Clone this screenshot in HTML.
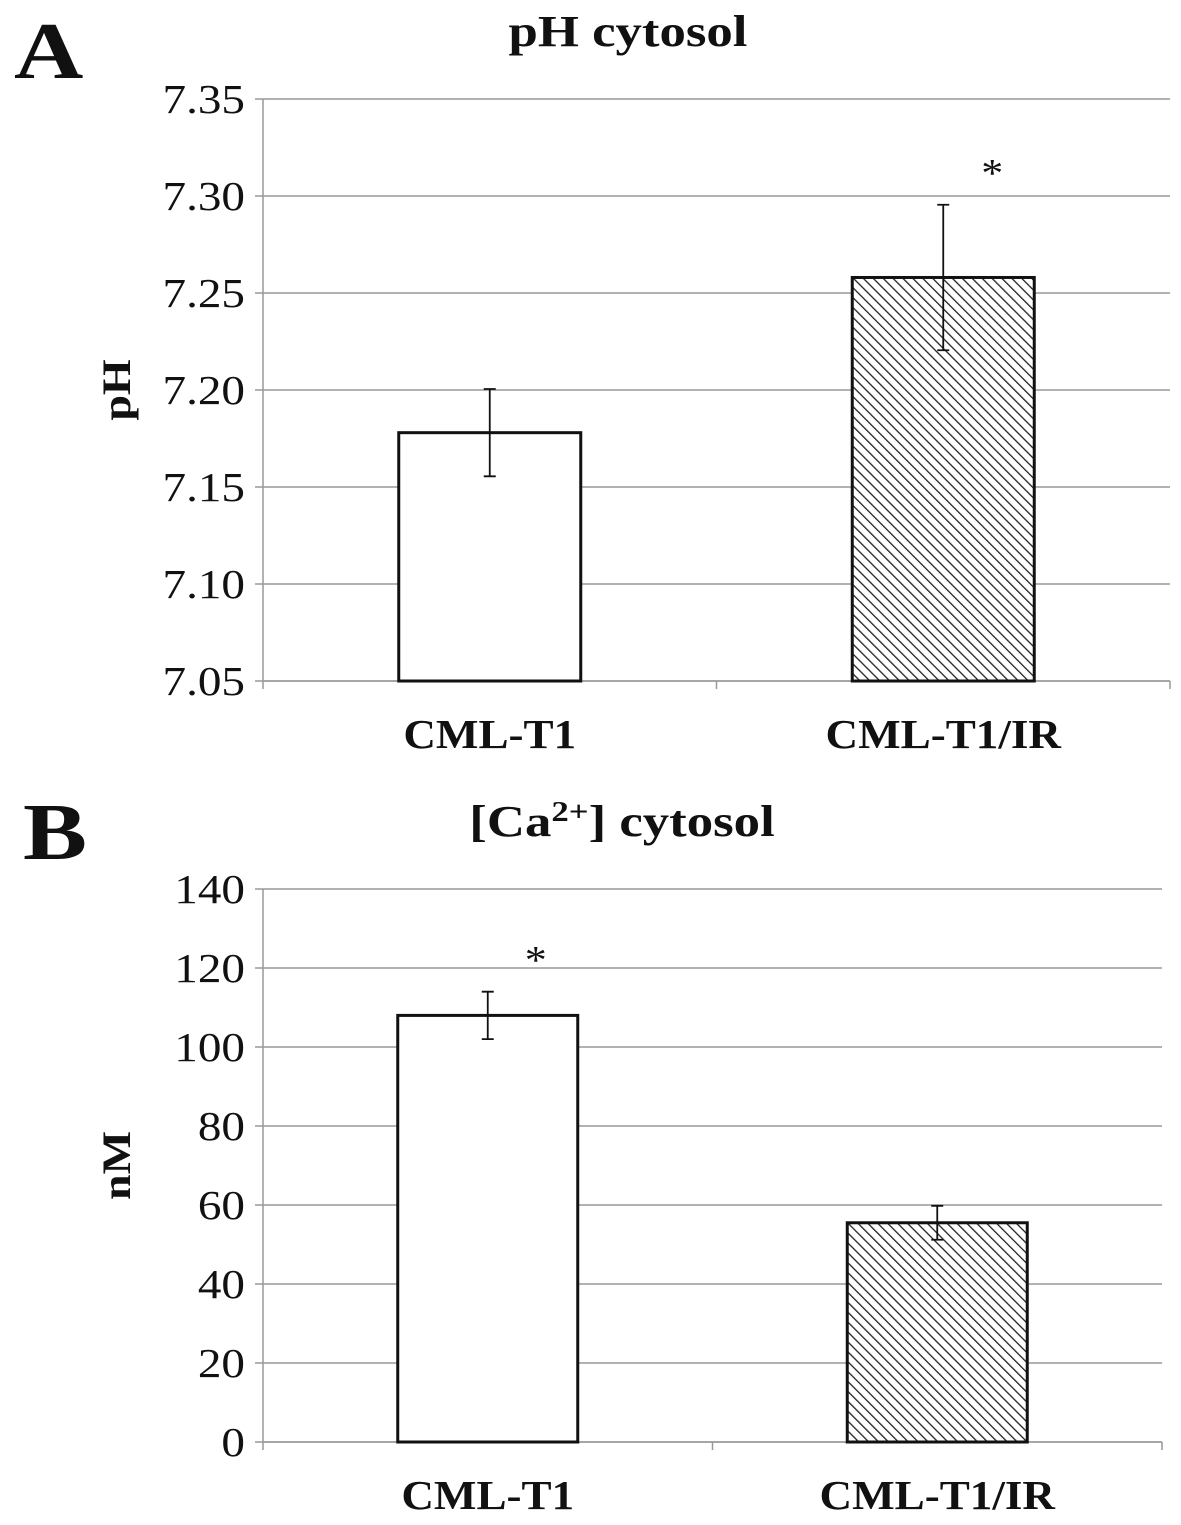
<!DOCTYPE html>
<html><head><meta charset="utf-8"><style>
html,body{margin:0;padding:0;background:#fff;}
svg text{font-family:"Liberation Serif",serif;fill:#111;}
</style></head><body>
<svg id="fig" width="1181" height="1520" viewBox="0 0 1181 1520" xmlns="http://www.w3.org/2000/svg">
<defs>
<pattern id="hatch" width="7" height="7" patternUnits="userSpaceOnUse" patternTransform="rotate(-45)">
<rect width="7" height="7" fill="#fff"/>
<line x1="0" y1="0" x2="0" y2="7" stroke="#222" stroke-width="2.6"/>
</pattern>
</defs>
<text transform="translate(14,78) scale(1.2,1)" font-size="80" font-weight="bold">A</text>
<text transform="translate(23,859) scale(1.2,1)" font-size="80" font-weight="bold">B</text>
<g id="chartA"></g>
<g id="chartB"></g>
</svg>
<script>
const catsA = ["CML-T1","CML-T1/IR"];
const valsA = [7.178, 7.258];
const errA = [0.0225, 0.0375];
const sigA = [false, true];
const ticksA = ["7.05","7.10","7.15","7.20","7.25","7.30","7.35"];

const catsB = ["CML-T1","CML-T1/IR"];
const valsB = [108, 55.5];
const errB = [6, 4.3];
const sigB = [true, false];
const ticksB = ["0","20","40","60","80","100","120","140"];

const NS="http://www.w3.org/2000/svg";
function mk(parent,tag,attrs){const e=document.createElementNS(NS,tag);for(const k in attrs)e.setAttribute(k,attrs[k]);parent.appendChild(e);return e;}

function draw(g,cfg){
  const {x0,x1,yTop,yBot,min,max,cats,vals,errs,sig,ticks,title,ytitle,barW}=cfg;
  const y=v=>yBot-(v-min)/(max-min)*(yBot-yTop);
  const band=(x1-x0)/cats.length;
  ticks.forEach(t=>{
    const yy=y(parseFloat(t));
    const gl=mk(g,'line',{x1:x0-8,x2:x1,y1:yy,y2:yy,stroke:'#999','stroke-width':1.5});
    
    
    const tl=mk(g,'text',{transform:`translate(${x0-18},${yy+14}) scale(1.15,1)`,'font-size':41,'text-anchor':'end'});
    tl.textContent=t;
    
    
  });
  const ax=mk(g,'line',{x1:x0,x2:x0,y1:yTop,y2:yBot,stroke:'#999','stroke-width':1.5});
  
  
  const xa=mk(g,'line',{x1:x0,x2:x1,y1:yBot,y2:yBot,stroke:'#999','stroke-width':1.5});
  
  
  for(let i=0;i<=cats.length;i++){
    const tk=mk(g,'line',{x1:x0+i*band,x2:x0+i*band,y1:yBot,y2:yBot+8,stroke:'#999','stroke-width':1.5});
    
    
  }
  cats.forEach((c,i)=>{
    const cx=x0+band*(i+0.5);
    const top=y(vals[i]);
    const b=mk(g,'rect',{x:cx-barW/2,y:top,width:barW,height:yBot-top,fill:i===1?'url(#hatch)':'#fff',stroke:'#111','stroke-width':3});
    
    
    const e1=y(vals[i]+errs[i]),e2=y(vals[i]-errs[i]);
    const eb=mk(g,'path',{d:`M${cx},${e1}V${e2}M${cx-6},${e1}H${cx+6}M${cx-6},${e2}H${cx+6}`,stroke:'#111','stroke-width':1.8,fill:'none'});
    
    
    if(sig[i]){
      const s=mk(g,'text',{transform:`translate(${cx+barW/2-42},${e1-18}) scale(1.1,1)`,'font-size':40,'text-anchor':'middle'});
      s.textContent='*';
      
      
    }
    const xl=mk(g,'text',{transform:`translate(${cx},${yBot+67}) scale(1.1,1)`,'font-size':41,'font-weight':'bold','text-anchor':'middle'});
    xl.textContent=c;
    
    
  });
  const tt=mk(g,'text',{transform:`translate(${cfg.titleX},${cfg.titleY}) scale(1.2,1)`,'font-size':44,'font-weight':'bold','text-anchor':'middle'});
  tt.innerHTML=title;
  
  
  const ym=(yTop+yBot)/2;
  const yt=mk(g,'text',{x:0,y:0,'font-size':40,'font-weight':'bold','text-anchor':'middle',transform:`translate(${cfg.ytX},${ym}) rotate(-90) scale(1.15,1)`});
  yt.textContent=ytitle;
  
  
}
draw(document.getElementById('chartA'),{x0:263,x1:1170,yTop:99,yBot:681,min:7.05,max:7.35,cats:catsA,vals:valsA,errs:errA,sig:sigA,ticks:ticksA,title:'pH cytosol',ytitle:'pH',barW:182,titleX:628,titleY:46,ytX:130});
draw(document.getElementById('chartB'),{x0:263,x1:1162,yTop:889,yBot:1442,min:0,max:140,cats:catsB,vals:valsB,errs:errB,sig:sigB,ticks:ticksB,title:'[Ca<tspan font-size="29" dy="-15">2+</tspan><tspan dy="15">] cytosol</tspan>',ytitle:'nM',barW:180,titleX:622,titleY:836,ytX:130});
</script>
</body></html>
